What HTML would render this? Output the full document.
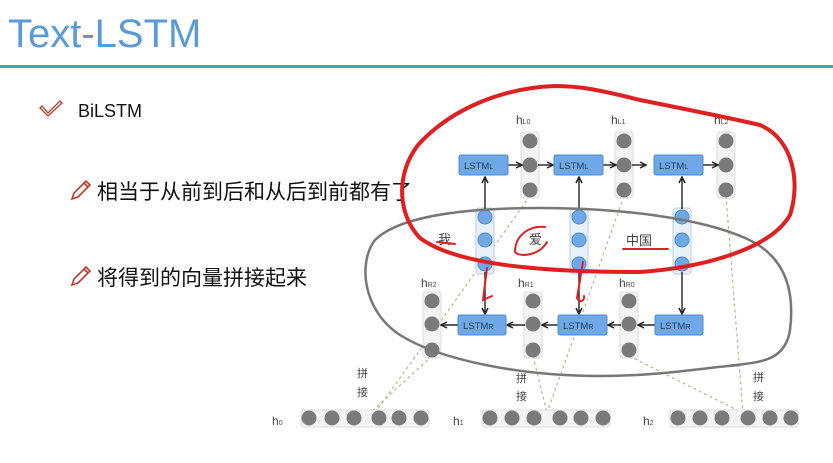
<!DOCTYPE html>
<html><head><meta charset="utf-8"><style>
html,body{margin:0;padding:0;background:#fff;width:833px;height:463px;overflow:hidden}
svg{display:block}
</style></head><body>
<svg width="833" height="463" viewBox="0 0 833 463" xmlns="http://www.w3.org/2000/svg" font-family="Liberation Sans, Noto Sans CJK SC, sans-serif">
<defs>
<marker id="ar" markerWidth="8" markerHeight="8" refX="7" refY="4" orient="auto" markerUnits="userSpaceOnUse"><path d="M1,1 L7,4 L1,7" fill="none" stroke="#222" stroke-width="1.5"/></marker>
</defs>
<text x="8" y="47" font-size="40" fill="#5b9bd5" font-family="Liberation Sans, sans-serif">Text-LSTM</text>
<rect x="0" y="65" width="833" height="3" fill="#3aa9bd"/>
<path d="M42,106 L48,113 L60,101 L62,103 L48,116 L40,108 Z" fill="none" stroke="#c0392b" stroke-width="1.3"/>
<text x="78" y="117" font-size="18" fill="#111">BiLSTM</text>
<g fill="none" stroke="#c0392b" stroke-width="1.6">
<path d="M72,199 L74,193 L86,181 L90,185 L78,197 Z M84,183 L88,187"/>
<path d="M72,285 L74,279 L86,267 L90,271 L78,283 Z M84,269 L88,273"/>
</g>
<text x="97" y="199" font-size="21" fill="#111" font-family="Noto Sans CJK SC, sans-serif">相当于从前到后和从后到前都有了</text>
<text x="97" y="285" font-size="21" fill="#111" font-family="Noto Sans CJK SC, sans-serif">将得到的向量拼接起来</text>

<g stroke="#b5b98e" stroke-width="1.2" stroke-dasharray="3,3" fill="none">
<line x1="530" y1="196" x2="375" y2="413"/>
<line x1="432" y1="356" x2="370" y2="413"/>
<line x1="624" y1="196" x2="547" y2="413"/>
<line x1="533" y1="356" x2="547" y2="413"/>
<line x1="726" y1="196" x2="743" y2="413"/>
<line x1="629" y1="356" x2="743" y2="413"/>
</g>

<g fill="#f4f4f4" stroke="#ddd" stroke-width="1">
<rect x="521" y="132" width="18" height="66" rx="3"/>
<rect x="615" y="132" width="18" height="66" rx="3"/>
<rect x="717" y="132" width="18" height="66" rx="3"/>
<rect x="423" y="292" width="18" height="66" rx="3"/>
<rect x="524" y="292" width="18" height="66" rx="3"/>
<rect x="620" y="292" width="18" height="66" rx="3"/>
<rect x="301" y="410" width="128" height="17" rx="3"/>
<rect x="482" y="410" width="128" height="17" rx="3"/>
<rect x="670" y="410" width="128" height="17" rx="3"/>
</g>
<g fill="#e8f0fa" stroke="#b9cde6" stroke-width="1">
<rect x="476" y="208" width="18" height="66" rx="3"/>
<rect x="570" y="208" width="18" height="66" rx="3"/>
<rect x="673" y="208" width="18" height="66" rx="3"/>
</g>
<g fill="#7a7a7a">
<circle cx="530" cy="141" r="7.5"/><circle cx="530" cy="165" r="7.5"/><circle cx="530" cy="190" r="7.5"/>
<circle cx="624" cy="141" r="7.5"/><circle cx="624" cy="165" r="7.5"/><circle cx="624" cy="190" r="7.5"/>
<circle cx="726" cy="141" r="7.5"/><circle cx="726" cy="165" r="7.5"/><circle cx="726" cy="190" r="7.5"/>
<circle cx="432" cy="301" r="7.5"/><circle cx="432" cy="324" r="7.5"/><circle cx="432" cy="350" r="7.5"/>
<circle cx="533" cy="301" r="7.5"/><circle cx="533" cy="324" r="7.5"/><circle cx="533" cy="350" r="7.5"/>
<circle cx="629" cy="301" r="7.5"/><circle cx="629" cy="324" r="7.5"/><circle cx="629" cy="350" r="7.5"/>
<circle cx="309" cy="418" r="7.5"/><circle cx="332" cy="418" r="7.5"/><circle cx="354" cy="418" r="7.5"/><circle cx="379" cy="418" r="7.5"/><circle cx="399" cy="418" r="7.5"/><circle cx="421" cy="418" r="7.5"/>
<circle cx="490" cy="418" r="7.5"/><circle cx="512" cy="418" r="7.5"/><circle cx="534" cy="418" r="7.5"/><circle cx="560" cy="418" r="7.5"/><circle cx="581" cy="418" r="7.5"/><circle cx="603" cy="418" r="7.5"/>
<circle cx="678" cy="418" r="7.5"/><circle cx="700" cy="418" r="7.5"/><circle cx="722" cy="418" r="7.5"/><circle cx="748" cy="418" r="7.5"/><circle cx="770" cy="418" r="7.5"/><circle cx="791" cy="418" r="7.5"/>
</g>
<g fill="#6fa8e6" stroke="#4d8bd0">
<circle cx="485" cy="217" r="7"/><circle cx="485" cy="240" r="7"/><circle cx="485" cy="264" r="7"/>
<circle cx="579" cy="217" r="7"/><circle cx="579" cy="240" r="7"/><circle cx="579" cy="264" r="7"/>
<circle cx="682" cy="217" r="7"/><circle cx="682" cy="240" r="7"/><circle cx="682" cy="264" r="7"/>
</g>
<g stroke="#222" stroke-width="1.4" marker-end="url(#ar)">
<line x1="485" y1="209" x2="485" y2="177"/>
<line x1="579" y1="209" x2="579" y2="177"/>
<line x1="682" y1="209" x2="682" y2="177"/>
<line x1="508" y1="165" x2="522" y2="165"/>
<line x1="538" y1="165" x2="553" y2="165"/>
<line x1="603" y1="165" x2="616" y2="165"/>
<line x1="632" y1="165" x2="646" y2="165"/>
<line x1="703" y1="165" x2="718" y2="165"/>
<line x1="485" y1="272" x2="485" y2="314"/>
<line x1="579" y1="272" x2="579" y2="314"/>
<line x1="682" y1="272" x2="682" y2="314"/>
<line x1="655" y1="325" x2="638" y2="325"/>
<line x1="621" y1="325" x2="608" y2="325"/>
<line x1="558" y1="325" x2="542" y2="325"/>
<line x1="525" y1="325" x2="507" y2="325"/>
<line x1="458" y1="325" x2="441" y2="325"/>
</g>
<g fill="#6fa8e6" stroke="#4d8bd0" stroke-width="1">
<rect x="459" y="155" width="49" height="20" rx="2"/>
<rect x="554" y="155" width="49" height="20" rx="2"/>
<rect x="654" y="155" width="49" height="20" rx="2"/>
<rect x="458" y="315" width="48" height="20" rx="2"/>
<rect x="558" y="315" width="49" height="20" rx="2"/>
<rect x="655" y="315" width="48" height="20" rx="2"/>
</g>
<g font-size="9.5" fill="#1f3d6b">
<text x="464" y="169">LSTM<tspan font-size="7">L</tspan></text>
<text x="559" y="169">LSTM<tspan font-size="7">L</tspan></text>
<text x="659" y="169">LSTM<tspan font-size="7">L</tspan></text>
<text x="463" y="329">LSTM<tspan font-size="7">R</tspan></text>
<text x="563" y="329">LSTM<tspan font-size="7">R</tspan></text>
<text x="660" y="329">LSTM<tspan font-size="7">R</tspan></text>
</g>
<g font-size="12" fill="#444">
<text x="516" y="124">h<tspan font-size="7">L0</tspan></text>
<text x="611" y="124">h<tspan font-size="7">L1</tspan></text>
<text x="714" y="124">h<tspan font-size="7">L2</tspan></text>
<text x="421" y="287">h<tspan font-size="7">R2</tspan></text>
<text x="518" y="287">h<tspan font-size="7">R1</tspan></text>
<text x="619" y="287">h<tspan font-size="7">R0</tspan></text>
<text x="272" y="425">h<tspan font-size="7">0</tspan></text>
<text x="453" y="425">h<tspan font-size="7">1</tspan></text>
<text x="643" y="425">h<tspan font-size="7">2</tspan></text>
</g>
<g font-size="11" fill="#444" font-family="Noto Sans CJK SC, sans-serif">
<text x="357" y="377">拼</text><text x="357" y="396">接</text>
<text x="516" y="382">拼</text><text x="516" y="400">接</text>
<text x="753" y="381">拼</text><text x="753" y="400">接</text>
<text x="438" y="244" font-size="13">我</text>
<text x="529" y="244" font-size="13">爱</text>
<text x="626" y="245" font-size="13">中国</text>
</g>
<path d="M728,366 C760,362 785,362 790,330 C795,290 785,255 745,238 C700,218 620,208 540,208 C470,208 400,215 375,240 C358,262 362,310 400,335 C440,360 520,376 600,376 C660,376 700,368 740,365" fill="none" stroke="#777" stroke-width="2.5"/>
<g fill="none" stroke="#e02020" stroke-width="4" stroke-linecap="round">
<path d="M555,86 C500,88 450,110 418,145 C395,175 398,215 420,238 C460,268 560,272 640,272 C700,268 770,250 790,215 C800,185 795,140 760,125 C730,118 700,112 640,100 C600,90 580,86 555,86 Z"/>
</g>
<g fill="none" stroke="#e02020" stroke-width="2" stroke-linecap="round">
<path d="M437,242 L455,244"/>
<path d="M545,227 C530,225 515,235 515,252 C520,258 540,255 547,242"/>
<path d="M623,249 L668,249"/>
<path d="M487,268 L483,300 L492,296"/>
<path d="M583,262 L577,298 C580,304 585,300 584,296"/>
</g>
</svg>
</body></html>
